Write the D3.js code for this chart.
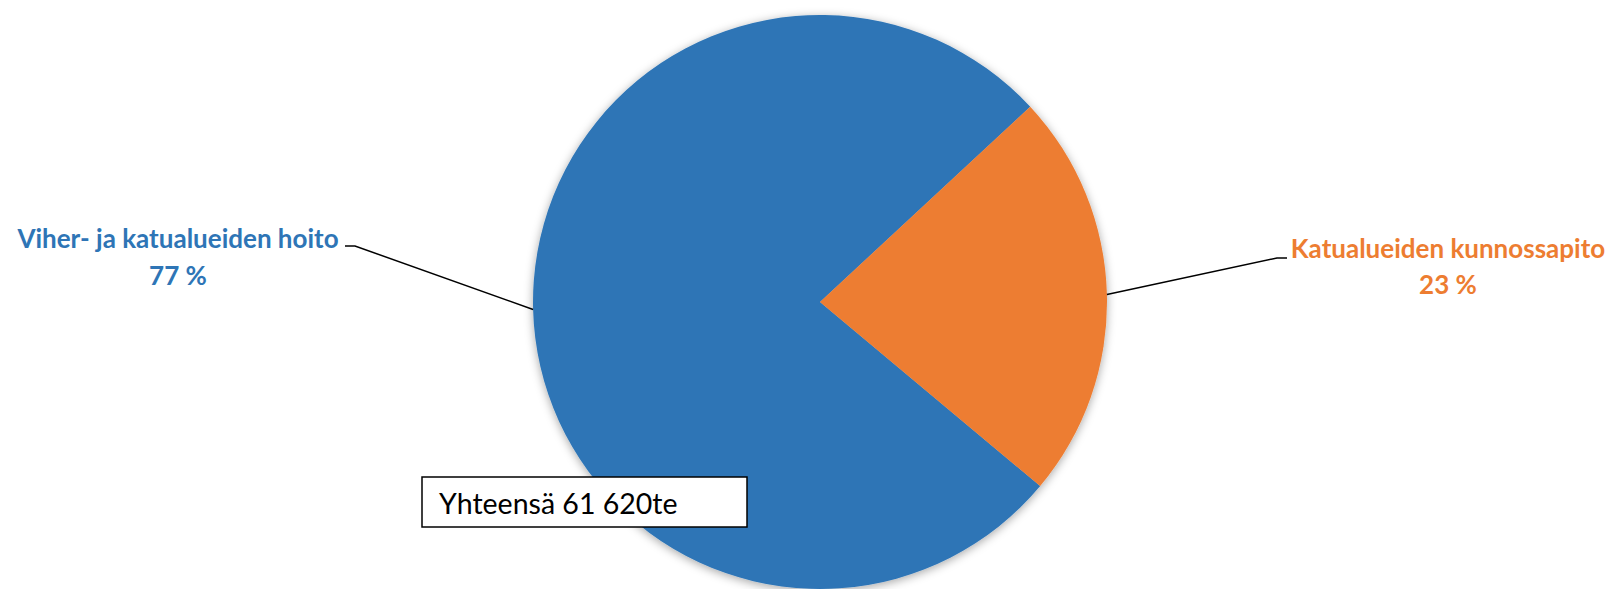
<!DOCTYPE html>
<html>
<head>
<meta charset="utf-8">
<script src="https://cdn.jsdelivr.net/npm/d3@7"></script>
<style>
  html, body { margin: 0; padding: 0; background: #fff; }
  svg { display: block; font-family: Lato, "Open Sans", sans-serif; }
</style>
</head>
<body>
<svg id="chart" width="1617" height="589"></svg>
<script>
// Data
const categories = ["Viher- ja katualueiden hoito", "Katualueiden kunnossapito"];
const shares = [77, 23];
const percentLabels = ["77 %", "23 %"];
const colors = ["#2E75B6", "#ED7D31"];
const totalText = "Yhteensä 61 620te";

const svg = d3.select("#chart");
const W = 1617, H = 589;
const cx = 820, cy = 302, R = 287;
const startDeg = 129.9;

const defs = svg.append("defs");
const f = defs.append("filter").attr("id", "shadow")
  .attr("x", "-10%").attr("y", "-10%").attr("width", "120%").attr("height", "120%");
f.append("feDropShadow").attr("dx", 0).attr("dy", 2).attr("stdDeviation", 5)
  .attr("flood-color", "#000").attr("flood-opacity", 0.35);

const pie = d3.pie().sort(null)
  .startAngle(startDeg * Math.PI / 180)
  .endAngle(startDeg * Math.PI / 180 + 2 * Math.PI);
const arcs = pie(shares);
const arc = d3.arc().innerRadius(0).outerRadius(R);

const g = svg.append("g").attr("transform", `translate(${cx},${cy})`);
g.append("g").attr("filter", "url(#shadow)")
  .selectAll("path").data(arcs).join("path")
  .attr("d", arc)
  .attr("fill", (d, i) => colors[i]);

// label layout (placement only)
const labelPos = [
  { elbow: [355, 246], end: [345, 246], x: 178, y1: 248, y2: 285 },
  { elbow: [1277, 258], end: [1287, 258], x: 1448, y1: 258, y2: 294 }
];

arcs.forEach((d, i) => {
  const mid = (d.startAngle + d.endAngle) / 2;
  const px = cx + R * Math.sin(mid);
  const py = cy - R * Math.cos(mid);
  const lp = labelPos[i];
  svg.append("polyline")
    .attr("points", [[px, py], lp.elbow, lp.end].map(p => p.join(",")).join(" "))
    .attr("fill", "none").attr("stroke", "#000").attr("stroke-width", 1.5);
  const t = svg.append("text").attr("text-anchor", "middle")
    .attr("fill", colors[i]).attr("font-weight", "bold").attr("font-size", 26);
  t.append("tspan").attr("x", lp.x).attr("y", lp.y1).text(categories[i]);
  t.append("tspan").attr("x", lp.x).attr("y", lp.y2).text(percentLabels[i]);
});

// total box
svg.append("rect").attr("x", 422).attr("y", 477).attr("width", 325).attr("height", 50)
  .attr("fill", "#fff").attr("stroke", "#000").attr("stroke-width", 1.5);
svg.append("text").attr("x", 439).attr("y", 514).attr("font-size", 28.5)
  .attr("fill", "#000").text(totalText);
</script>
</body>
</html>
